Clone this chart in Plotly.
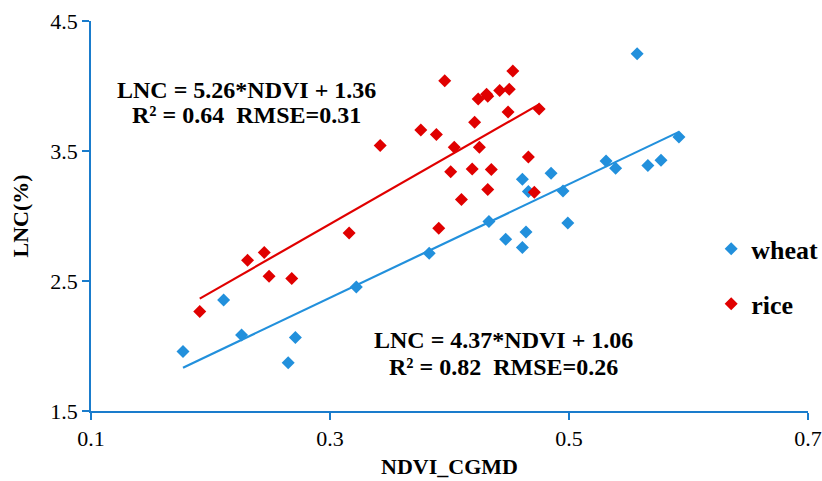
import plotly.graph_objects as go

# NDVI_CGMD vs leaf nitrogen content for two crops
wheat_ndvi = [0.177, 0.211, 0.226, 0.265, 0.271, 0.322, 0.383, 0.433, 0.447, 0.461, 0.464,
              0.461, 0.466, 0.485, 0.495, 0.499, 0.531, 0.539, 0.557, 0.566, 0.577, 0.592]
wheat_lnc = [1.957, 2.354, 2.085, 1.872, 2.065, 2.454, 2.713, 2.957, 2.821, 2.757, 2.877,
             3.282, 3.188, 3.328, 3.192, 2.946, 3.423, 3.367, 4.249, 3.388, 3.428, 3.608]

rice_ndvi = [0.191, 0.231, 0.245, 0.249, 0.268, 0.316, 0.342, 0.376, 0.389, 0.391, 0.396,
             0.401, 0.404, 0.410, 0.419, 0.421, 0.424, 0.425, 0.431, 0.432, 0.432, 0.435,
             0.442, 0.449, 0.450, 0.453, 0.466, 0.471, 0.475]
rice_lnc = [2.265, 2.659, 2.720, 2.536, 2.520, 2.869, 3.542, 3.662, 3.626, 2.905, 4.041,
            3.341, 3.528, 3.126, 3.362, 3.721, 3.900, 3.528, 3.936, 3.921, 3.203, 3.357,
            3.965, 3.800, 3.975, 4.115, 3.454, 3.182, 3.823]

# linear fits: slope, intercept, R², RMSE
wheat_fit = (4.37, 1.06, 0.82, 0.26)
rice_fit = (5.26, 1.36, 0.64, 0.31)

x_ticks = [0.1, 0.3, 0.5, 0.7]
y_ticks = [1.5, 2.5, 3.5, 4.5]

BLUE = "#2290dc"
RED = "#e00000"
AXIS = "#1a7ccc"
SERIF = "Liberation Serif"


def fit_line(xs, slope, intercept):
    x0, x1 = min(xs), max(xs)
    return [x0, x1], [slope * x0 + intercept, slope * x1 + intercept]


fig = go.Figure()

for name, xs, ys, color, group in [("wheat", wheat_ndvi, wheat_lnc, BLUE, "g1"),
                                   ("rice", rice_ndvi, rice_lnc, RED, "g2")]:
    fig.add_trace(go.Scatter(
        x=xs, y=ys, mode="markers", name=name, legendgroup=group,
        marker=dict(symbol="diamond", size=10, color=color, line=dict(width=0)),
    ))

for xs, fit, color in [(wheat_ndvi, wheat_fit, BLUE), (rice_ndvi, rice_fit, RED)]:
    lx, ly = fit_line(xs, fit[0], fit[1])
    fig.add_trace(go.Scatter(x=lx, y=ly, mode="lines", showlegend=False,
                             line=dict(color=color, width=2.2), hoverinfo="skip"))


def eq_text(fit):
    return f"LNC = {fit[0]:.2f}*NDVI + {fit[1]:.2f}"


def stat_text(fit):
    return f"R² = {fit[2]:.2f}\u00a0\u00a0RMSE={fit[3]:.2f}"


ann_font = dict(family=SERIF, size=24, color="black")
annotations = [
    dict(x=0.2305, y=3.967, text=f"<b>{eq_text(rice_fit)}</b>"),
    dict(x=0.2305, y=3.775, text=f"<b>{stat_text(rice_fit)}</b>"),
    dict(x=0.445, y=2.044, text=f"<b>{eq_text(wheat_fit)}</b>"),
    dict(x=0.445, y=1.836, text=f"<b>{stat_text(wheat_fit)}</b>"),
]
for a in annotations:
    fig.add_annotation(xref="x", yref="y", showarrow=False, font=ann_font,
                       xanchor="center", yanchor="middle", **a)

fig.update_layout(
    width=822, height=481,
    margin=dict(l=91, r=14, t=21, b=70, autoexpand=False),
    paper_bgcolor="white", plot_bgcolor="white",
    font=dict(family=SERIF, color="black"),
    showlegend=True,
    legend=dict(
        x=0.865, y=0.345, xanchor="left", yanchor="middle",
        font=dict(family=SERIF, size=26, color="black", weight="bold"),
        tracegroupgap=18, bgcolor="rgba(0,0,0,0)", itemwidth=30,
    ),
    xaxis=dict(
        range=[0.1, 0.7], tickvals=x_ticks, ticktext=[f"{v:.1f}" for v in x_ticks],
        showgrid=False, zeroline=False, showline=True, linecolor=AXIS, linewidth=1.5,
        ticks="outside", ticklen=7, tickcolor=AXIS, tickwidth=1.5, automargin=False,
        tickfont=dict(family=SERIF, size=22, color="black"),
        title=dict(text="<b>NDVI_CGMD</b>", font=dict(family=SERIF, size=22, color="black"),
                   standoff=8),
    ),
    yaxis=dict(
        range=[1.5, 4.5], tickvals=y_ticks, ticktext=[f"{v:.1f}" for v in y_ticks],
        showgrid=False, zeroline=False, showline=True, linecolor=AXIS, linewidth=1.5,
        ticks="outside", ticklen=7, tickcolor=AXIS, tickwidth=1.5, automargin=False,
        tickfont=dict(family=SERIF, size=22, color="black"),
        title=dict(text="<b>LNC(%)</b>", font=dict(family=SERIF, size=22, color="black"),
                   standoff=16),
    ),
)

fig.write_html("out.html")
